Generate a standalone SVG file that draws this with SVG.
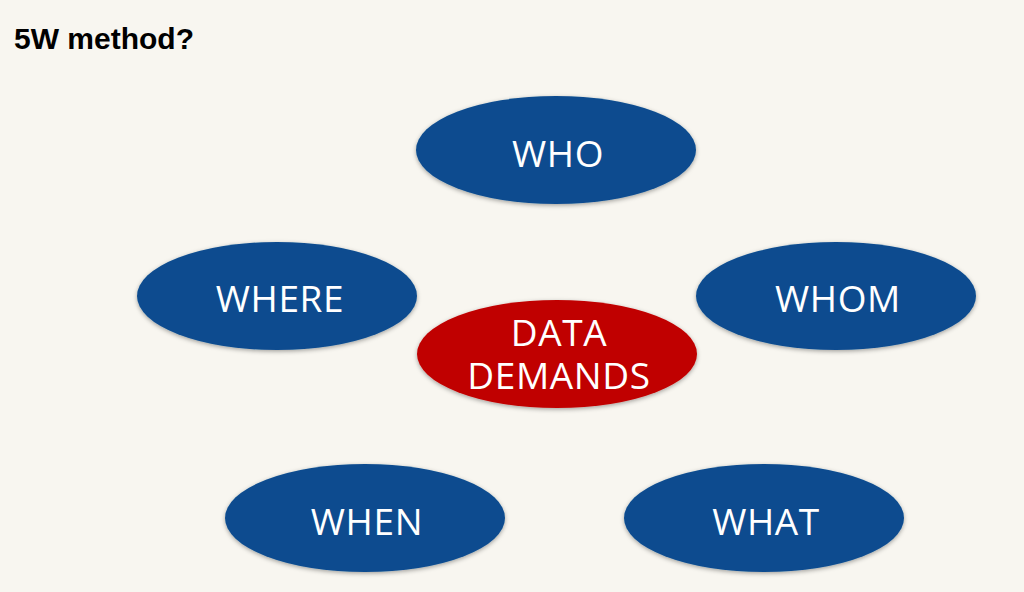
<svg xmlns="http://www.w3.org/2000/svg" width="1024" height="592" viewBox="0 0 1024 592">
<defs>
<filter id="sh" x="-10%" y="-15%" width="120%" height="135%">
<feDropShadow dx="0" dy="1.5" stdDeviation="2" flood-color="#000" flood-opacity="0.35"/>
</filter>
<style>
.n{fill:#0a4c8f;filter:url(#sh)}
.c{fill:#c00000;filter:url(#sh)}
.t{font-family:"Open Sans","Noto Sans",sans-serif;font-size:37px;letter-spacing:0.6px;fill:#fff;text-anchor:middle}
.title{font-family:"Liberation Sans",Arial,sans-serif;font-weight:bold;font-size:30px;fill:#000}
</style>
</defs>
<rect width="1024" height="592" fill="#f8f6f0"/>
<text class="title" x="14" y="49">5W method?</text>
<g id="connectors"/>
<g id="who"><ellipse class="n" cx="556" cy="150" rx="140" ry="54"/><text class="t" x="558" y="167">WHO</text></g>
<g id="where"><ellipse class="n" cx="277" cy="296" rx="140" ry="54"/><text class="t" x="280" y="312">WHERE</text></g>
<g id="whom"><ellipse class="n" cx="836" cy="296" rx="140" ry="54"/><text class="t" x="838" y="312">WHOM</text></g>
<g id="data"><ellipse class="c" cx="557" cy="354" rx="140" ry="54"/><text class="t" x="559" y="346">DATA</text><text class="t" x="559" y="389">DEMANDS</text></g>
<g id="when"><ellipse class="n" cx="365" cy="518" rx="140" ry="54"/><text class="t" x="367" y="535">WHEN</text></g>
<g id="what"><ellipse class="n" cx="764" cy="518" rx="140" ry="54"/><text class="t" x="766" y="535">WHAT</text></g>
</svg>
